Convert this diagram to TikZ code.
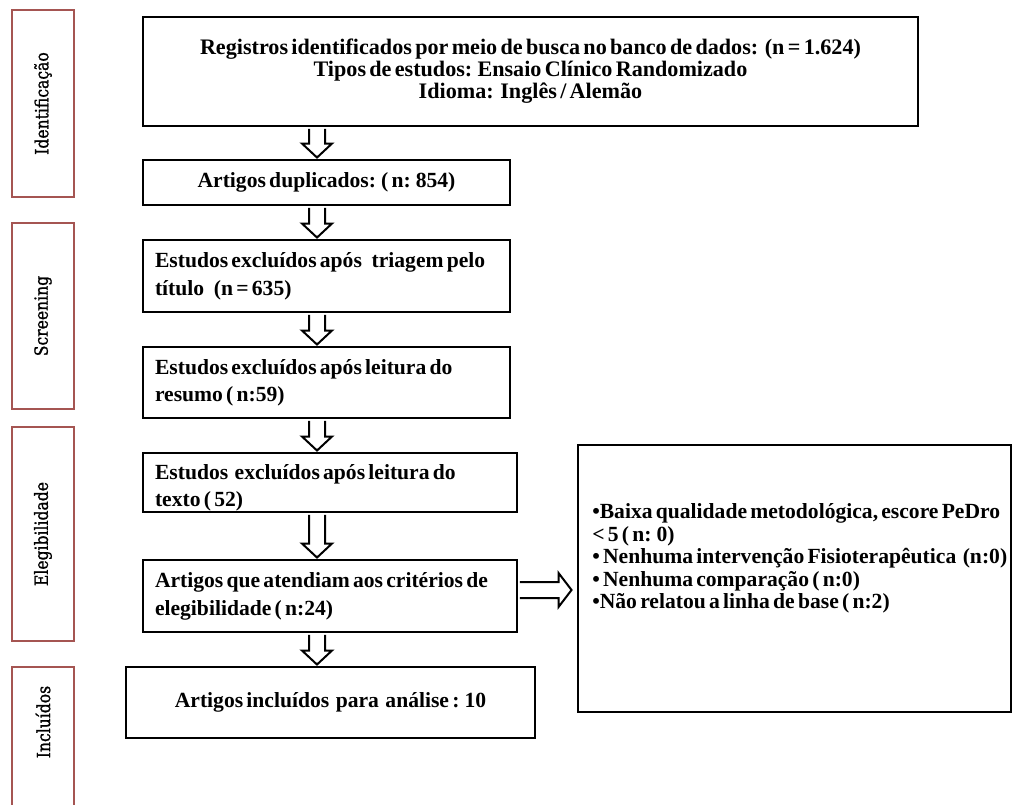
\documentclass[tikz,border=0pt]{standalone}
\usepackage{fontspec}
\setmainfont{Liberation Serif}[WordSpace=0.6]
\newfontfamily\labfont{DejaVu Serif}[FakeStretch=0.86, FakeBold=1.2]
\usetikzlibrary{calc}
\definecolor{labred}{RGB}{165,85,82}
\newcommand\varr[2]{%
  \draw[arr] ($(#1.south -| ax)+(-8,1.5)$) -- ($(#2.north -| ax)+(-8,-15)$) -- ($(#2.north -| ax)+(-15,-15)$) -- ($(#2.north -| ax)+(0,-1)$) -- ($(#2.north -| ax)+(15,-15)$) -- ($(#2.north -| ax)+(8,-15)$) -- ($(#1.south -| ax)+(8,1.5)$);}
\newcommand\twol[3]{\makebox[#1][l]{\begin{tabular}{@{}l@{}}#2\\#3\end{tabular}}}
\begin{document}
\begin{tikzpicture}[x=0.75pt,y=-0.75pt,
  box/.style={draw=black, line width=2.2pt, inner sep=0pt, font=\bfseries\fontsize{16.2}{16.5}\selectfont},
  twoline/.style={box, font=\bfseries\fontsize{16.2}{20.5}\selectfont},
  lab/.style={draw=labred, line width=2.2pt, minimum width=46.5pt, inner sep=0pt, font=\labfont\fontsize{13.6}{15}\selectfont},
  labtxt/.style={inner sep=0pt, font=\labfont\fontsize{13.6}{15}\selectfont},
  rtext/.style={inner sep=0pt, align=left, font=\bfseries\fontsize{16.2}{16.8}\selectfont},
  arr/.style={draw=black, line width=1.5pt, line join=miter}]
\useasboundingbox (0,0) rectangle (1012,805);
\fill[white] (0,0) rectangle (1012,805);
\coordinate (ax) at (317,0);
\coordinate (ay) at (0,590);
% stage labels
\node[lab, minimum height=140.25pt] (l1) at (43,103.5) {\rotatebox{90}{Identificação}};
\node[lab, minimum height=139.5pt] (l2) at (43,316) {\rotatebox{90}{Screening}};
\node[lab, minimum height=160.5pt] (l3) at (43,534) {\rotatebox{90}{Elegibilidade}};
\begin{scope}
\clip (0,0) rectangle (1012,805);
\node[lab, minimum height=122.25pt] (l4) at (43,748.5) {};
\end{scope}
\node[labtxt] (l4t) at (43,722) {\rotatebox{90}{Incluídos}};
% flow boxes
\node[box, minimum width=581.25pt, minimum height=81.75pt, align=center, font=\bfseries\fontsize{16.6}{16.5}\selectfont] (top) at (530.5,71.5)
  {Registros identificados por meio de busca no banco de dados:\ \ (n = 1.624)\\
   Tipos de estudos: Ensaio Clínico Randomizado\\
   Idioma:\ \ Inglês / Alemão};
\node[box, minimum width=275.25pt, minimum height=33.75pt] (dup) at (326.5,182.5) {Artigos duplicados: ( n: 854)};
\node[twoline, minimum width=275.25pt, minimum height=54pt] (tri) at (326.5,276)
  {\twol{257.25pt}{Estudos excluídos após\ \ \ triagem pelo}{título\ \ \ (n = 635)}};
\node[twoline, minimum width=275.25pt, minimum height=53.25pt] (res) at (326.5,382.5)
  {\twol{257.25pt}{Estudos excluídos após leitura do}{resumo ( n:59)}};
\node[twoline, minimum width=280.5pt, minimum height=44.25pt] (tex) at (330,482.5)
  {\raisebox{-4pt}[\height][\depth]{\twol{262.5pt}{Estudos\ \ excluídos após leitura do}{texto ( 52)}}};
\node[twoline, minimum width=280.5pt, minimum height=54pt] (ate) at (330,596)
  {\twol{262.5pt}{Artigos que atendiam aos critérios de}{elegibilidade ( n:24)}};
\node[box, minimum width=306.75pt, minimum height=53.25pt] (inc) at (330.5,702.5)
  {Artigos incluídos\ \ para\ \ análise : 10};
\node[box, minimum width=324.75pt, minimum height=200.25pt] (rbox) at (794.5,578.5) {};
\node[rtext, anchor=west] (rt) at (592,558.5)
  {•Baixa qualidade metodológica, escore PeDro\\
   < 5 ( n: 0)\\
   • Nenhuma intervenção Fisioterapêutica\ \ (n:0)\\
   • Nenhuma comparação ( n:0)\\
   •Não relatou a linha de base ( n:2)};
% arrows
\varr{top}{dup}
\varr{dup}{tri}
\varr{tri}{res}
\varr{res}{tex}
\varr{tex}{ate}
\varr{ate}{inc}
\draw[arr] ($(ate.east |- ay)+(1.5,-8)$) -- ($(rbox.west |- ay)+(-18,-8)$) -- ($(rbox.west |- ay)+(-18,-17)$) -- ($(rbox.west |- ay)+(-5,0)$) -- ($(rbox.west |- ay)+(-18,17)$) -- ($(rbox.west |- ay)+(-18,8)$) -- ($(ate.east |- ay)+(1.5,8)$);
\end{tikzpicture}
\end{document}
